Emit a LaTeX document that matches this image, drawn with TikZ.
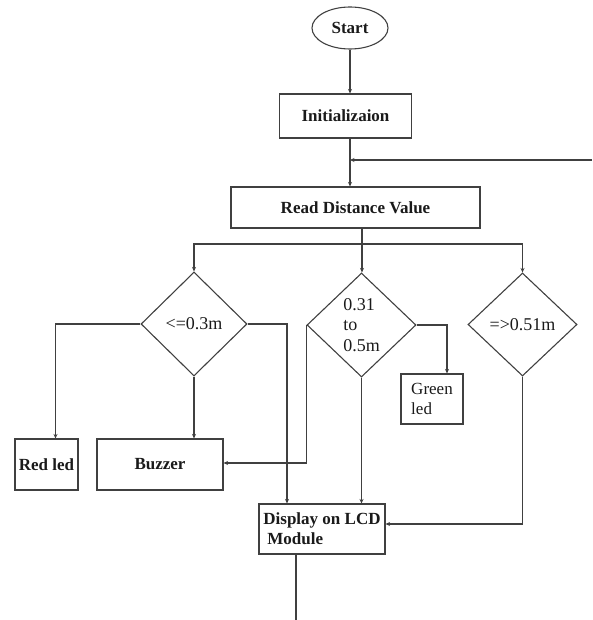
\documentclass[tikz,border=0pt]{standalone}
\usepackage{fontspec}
\setmainfont{Liberation Serif}
\usepackage{tikz}
\usetikzlibrary{arrows.meta,shapes.geometric,calc}
\usepackage{xcolor}
\definecolor{FCLine}{HTML}{404040}
\definecolor{FCText}{HTML}{1A1A1A}

\begin{document}
\begin{tikzpicture}[x=1pt,y=-1pt,
  b/.style={draw=FCLine,line width=1.1pt,inner sep=0pt,text=FCText,font=\fontsize{17}{20}\selectfont\bfseries},
  dec/.style={diamond,draw=FCLine,line width=1.1pt,inner sep=0pt,text=FCText,font=\fontsize{18}{20.5}\selectfont},
  a/.style={-{Stealth[length=4.5pt,width=4pt]},line width=1.1pt,draw=FCLine},
  l/.style={line width=1.1pt,draw=FCLine}]
\useasboundingbox (0,0) rectangle (592,620);
\node[b,ellipse,minimum width=76pt,minimum height=42pt] (start) at (350,28) {Start};
\node[b,minimum width=132pt,minimum height=44pt] (init) at (345.5,116) {Initializaion};
\node[b,minimum width=249pt,minimum height=41pt] (read) at (355.5,207.5) {Read Distance Value};
\node[dec,minimum width=106pt,minimum height=104pt] (lo) at (194,324) {<=0.3m};
\node[dec,minimum width=109pt,minimum height=104pt,align=left] (mid) at (361.5,325) {0.31\\to\\0.5m};
\node[dec,minimum width=109pt,minimum height=103pt] (hi) at (522.5,324.5) {=>0.51m};
\node[b,minimum width=63pt,minimum height=51pt] (red) at (46.5,464.5) {Red led};
\node[b,minimum width=126pt,minimum height=51pt] (buzz) at (160,464.5) {Buzzer};
\node[b,font=\fontsize{17}{20}\selectfont,align=left,minimum width=62pt,minimum height=50pt] (green) at (432,399) {Green\\led};
\node[b,align=left,minimum width=126pt,minimum height=50pt] (lcd) at (322,529) {Display on LCD\\\hspace{4pt}Module};
\coordinate (loop) at (592,160);
\coordinate (split) at (362,244);
\coordinate (stop) at (296,620);
% main line
\draw[a] (start) -- (start |- init.north);
\draw[a] (start |- init.south) -- (start |- read.north);
\draw[a] (loop) -- (start |- loop);
\draw[l] (split |- read.south) -- (split);
\draw[a] (split) -| (lo.north);
\draw[a] (split) -- (split |- mid.north);
\draw[a] (split) -| (hi.north);
% branches
\draw[a] (lo.west) -| ([xshift=9pt]red.north);
\draw[a] (lo.south) -- (lo.south |- buzz.north);
\draw[a] (lo.east) -| ([xshift=-35pt]lcd.north);
\draw[a] (mid.west) |- ([yshift=1.5pt]buzz.east);
\draw[a] (mid.east) -| ([xshift=15pt]green.north);
\draw[a] (mid.south) -- (mid.south |- lcd.north);
\draw[a] (hi.south) |- ([yshift=5pt]lcd.east);
\draw[l] (lcd.south -| stop) -- (stop);
\end{tikzpicture}
\end{document}
